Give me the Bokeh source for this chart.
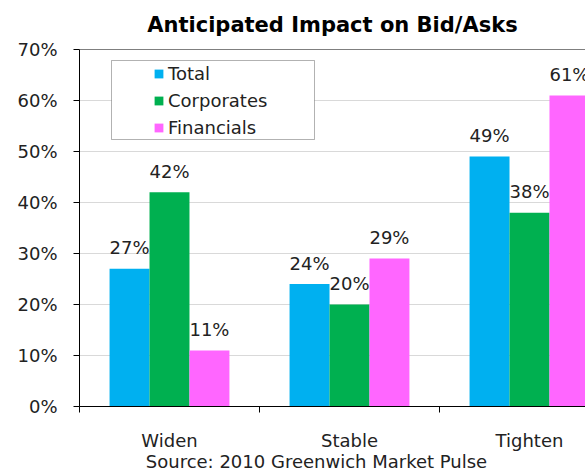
import numpy as np
from bokeh.plotting import figure
from bokeh.models import (ColumnDataSource, Range1d, FixedTicker, PrintfTickFormatter,
                          Legend, LegendItem, Span, BoxAnnotation, LinearAxis, Title)
from bokeh.transform import dodge
from bokeh.core.properties import value
from bokeh.embed import file_html
from bokeh.resources import INLINE

# ---- data ----
categories = ["Widen", "Stable", "Tighten"]
total = [27, 24, 49]
corporates = [42, 20, 38]
financials = [11, 29, 61]
series_names = ["Total", "Corporates", "Financials"]
y_ticks = [0, 10, 20, 30, 40, 50, 60, 70]
title_text = "Anticipated Impact on Bid/Asks"
source_text = "Source: 2010 Greenwich Market Pulse"

colors = ["#00B0F0", "#00B050", "#FF66FF"]
FONT = "DejaVu Sans"
TXT = "#222222"

centers = [i + 0.5 for i in range(len(categories))]
src = ColumnDataSource(dict(
    x=centers,
    total=total, corporates=corporates, financials=financials,
    total_lbl=[f"{v}%" for v in total],
    corporates_lbl=[f"{v}%" for v in corporates],
    financials_lbl=[f"{v}%" for v in financials],
))

p = figure(width=585, height=475, output_backend="svg", toolbar_location=None,
           x_range=Range1d(0, 506 / 180), y_range=Range1d(0, 70),
           min_border_left=79, min_border_right=0, min_border_top=49, min_border_bottom=69)
p.outline_line_color = None
p.background_fill_color = "white"
p.border_fill_color = "white"

p.title = Title(text=title_text, align="center", vertical_align="top", standoff=22,
                text_font=FONT, text_font_size="21px", text_font_style="bold",
                text_color="black")

bw = 0.222
offs = [-bw, 0.0, bw]
keys = ["total", "corporates", "financials"]
renderers = []
for k, off, c in zip(keys, offs, colors):
    r = p.vbar(x=dodge("x", off, range=p.x_range), top=k, width=bw, source=src,
               fill_color=c, line_color=None)
    renderers.append(r)
    p.text(x=dodge("x", off, range=p.x_range), y=k, text=k + "_lbl", source=src,
           text_align="center", text_baseline="middle", y_offset=-21,
           text_font=value(FONT), text_font_size=value("18px"), text_color=TXT)

# top border
p.add_layout(Span(location=70, dimension="width", line_color="black", line_width=1))

# grid
p.xgrid.grid_line_color = None
p.ygrid.grid_line_color = "#d9d9d9"
p.ygrid.ticker = FixedTicker(ticks=y_ticks)

# y axis
p.yaxis.ticker = FixedTicker(ticks=y_ticks)
p.yaxis.formatter = PrintfTickFormatter(format="%d%%")
p.yaxis.axis_line_color = "black"
p.yaxis.major_tick_line_color = "black"
p.yaxis.major_tick_out = 6
p.yaxis.major_tick_in = 0
p.yaxis.minor_tick_line_color = None
p.yaxis.major_label_standoff = 16
p.yaxis.major_label_text_font = FONT
p.yaxis.major_label_text_font_size = "18px"
p.yaxis.major_label_text_color = TXT

# x axis
p.xaxis.ticker = FixedTicker(ticks=centers, minor_ticks=list(range(len(categories) + 1)))
p.xaxis.major_label_overrides = {c: n for c, n in zip(centers, categories)}
p.xaxis.axis_line_color = "black"
p.xaxis.major_tick_line_color = None
p.xaxis.major_tick_out = 0
p.xaxis.major_tick_in = 0
p.xaxis.minor_tick_line_color = "black"
p.xaxis.minor_tick_out = 6
p.xaxis.minor_tick_in = 0
p.xaxis.major_label_standoff = 17
p.xaxis.major_label_text_font = FONT
p.xaxis.major_label_text_font_size = "18px"
p.xaxis.major_label_text_color = TXT

# source line as a second, bare axis below
src_pos = 237 / 180
src_axis = LinearAxis(ticker=FixedTicker(ticks=[src_pos], minor_ticks=[]),
                      major_label_overrides={src_pos: source_text},
                      axis_line_color=None, major_tick_line_color=None,
                      minor_tick_line_color=None, major_tick_out=0, major_tick_in=0,
                      major_label_standoff=-3, major_label_text_font=FONT,
                      major_label_text_font_size="18px", major_label_text_color=TXT)
p.add_layout(src_axis, "below")

# legend box + legend
p.add_layout(BoxAnnotation(left=32 / 180, right=235 / 180, top=346 / 5.1, bottom=267 / 5.1,
                           fill_color="white", fill_alpha=1.0, line_color="black",
                           line_width=1, level="annotation"))
legend = Legend(items=[LegendItem(label=n, renderers=[r]) for n, r in zip(series_names, renderers)],
                location=(74, 268), border_line_color=None, background_fill_alpha=0,
                padding=0, spacing=6, glyph_width=11, glyph_height=11, label_standoff=4,
                label_height=20, label_text_font=FONT, label_text_font_size="18px",
                label_text_color=TXT)
p.add_layout(legend)

open("out.html", "w").write(file_html(p, INLINE))
